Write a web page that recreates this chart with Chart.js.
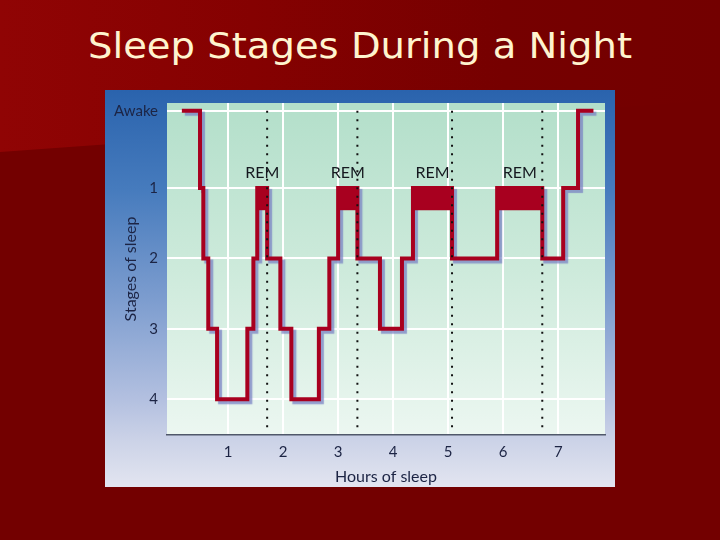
<!DOCTYPE html>
<html>
<head>
<meta charset="utf-8">
<script src="https://cdn.jsdelivr.net/npm/chart.js@4"></script>
<style>
  html, body { margin: 0; padding: 0; }
  body { width: 720px; height: 540px; position: relative; overflow: hidden; background: #730000; }
  #glow {
    position: absolute; left: 0; top: 0; width: 720px; height: 540px;
    background: linear-gradient(to right, #900404 0%, #850101 35%, #760000 70%, #730000 100%);
    clip-path: polygon(0 0, 720px 0, 720px 100px, 0 152px);
  }
  #title {
    position: absolute; left: 88px; top: 26px; line-height: 40px;
    font-family: "DejaVu Sans", sans-serif; font-size: 35px; color: #fff4cf;
    white-space: nowrap; transform-origin: 0 0;
  }
  #myChart { position: absolute; left: 105px; top: 90px; }
</style>
</head>
<body>
<div id="glow"></div>
<div id="title">Sleep Stages During a Night</div>
<canvas id="myChart" width="510" height="397"></canvas>
<script>
// 資料
var HOUR_TICKS = [1, 2, 3, 4, 5, 6, 7];
var STAGE_TICKS = ['Awake', '1', '2', '3', '4'];
var STAGE_LEVELS = [-0.1, 1, 2, 3, 4]; // where each stage sits on the y axis (Awake a bit above)

// hypnogram: time of each change (hours) and the stage entered (0 = Awake)
var CHANGE_HOURS = [0.16, 0.49, 0.55, 0.64, 0.80, 1.35, 1.46, 1.53, 1.71, 1.95, 2.15, 2.65,
                    2.84, 3.00, 3.35, 3.76, 4.16, 4.36, 5.07, 5.89, 6.71, 7.09, 7.36, 7.64];
var STAGES = [0, 1, 2, 3, 4, 3, 2, 1, 2, 3, 4, 3,
              2, 1, 2, 3, 2, 1, 2, 1, 2, 1, 0, 0];

// REM periods
var REM_START = [1.53, 3.00, 4.36, 5.89];
var REM_END = [1.71, 3.35, 5.07, 6.71];
var REM_DEPTH = 1.3;

// title width fit
var title = document.getElementById('title');
var mctx = document.createElement('canvas').getContext('2d');
mctx.font = '35px "DejaVu Sans"';
title.style.transform = 'scaleX(' + (544 / mctx.measureText(title.textContent).width) + ')';

var RED = '#a8001f';
var INK = '#1c2444';

// the stage held from each change time until the next one
var hypno = [];
CHANGE_HOURS.forEach(function (h, i) {
    var prev = i > 0 ? STAGES[i - 1] : STAGES[0];
    hypno.push({ x: h, y: STAGE_LEVELS[prev] });
    hypno.push({ x: h, y: STAGE_LEVELS[STAGES[i]] });
});

var datasets = [];
// dotted lines at the end of each REM period
REM_END.forEach(function (t) {
    datasets.push({
        data: [{ x: t, y: -0.1 }, { x: t, y: 4.42 }],
        borderColor: '#111111',
        borderWidth: 2,
        borderDash: [2, 6.5],
        pointRadius: 0
    });
});
// REM blocks (on top of the hypnogram line)
REM_START.forEach(function (t, i) {
    datasets.push({
        data: [{ x: t, y: REM_DEPTH }, { x: REM_END[i], y: REM_DEPTH }],
        borderColor: RED,
        borderWidth: 2,
        backgroundColor: RED,
        fill: { value: 1 },
        pointRadius: 0
    });
});
// hypnogram
datasets.push({
    data: hypno,
    borderColor: RED,
    borderWidth: 4,
    borderJoinStyle: 'miter',
    pointRadius: 0,
    shadow: true
});

var panelBg = {
    id: 'panelBg',
    beforeDraw: function (c) {
        var ctx = c.ctx, a = c.chartArea;
        var g = ctx.createLinearGradient(0, 0, 0, c.height);
        g.addColorStop(0, '#2a63ad');
        g.addColorStop(0.25, '#467bbd');
        g.addColorStop(0.53, '#7d9dcf');
        g.addColorStop(0.78, '#b3c0e0');
        g.addColorStop(0.88, '#cbd2e7');
        g.addColorStop(1, '#e3e5f0');
        ctx.save();
        ctx.fillStyle = g;
        ctx.fillRect(0, 0, c.width, c.height);
        var m = ctx.createLinearGradient(0, a.top, 0, a.bottom);
        m.addColorStop(0, '#b3dfca');
        m.addColorStop(0.5, '#cdeadb');
        m.addColorStop(1, '#ecf7f1');
        ctx.fillStyle = m;
        ctx.fillRect(a.left, a.top, a.right - a.left, a.bottom - a.top);
        ctx.restore();
    },
    beforeDatasetDraw: function (c, args) {
        if (!args.meta._dataset.shadow) return;
        var ctx = c.ctx;
        ctx.save();
        ctx.shadowColor = 'rgba(120,130,195,0.75)';
        ctx.shadowOffsetX = 3;
        ctx.shadowOffsetY = 3;
        ctx.shadowBlur = 1;
    },
    afterDatasetDraw: function (c, args) {
        if (!args.meta._dataset.shadow) return;
        c.ctx.restore();
    },
    afterDatasetsDraw: function (c) {
        // REM 標籤
        var ctx = c.ctx, xs = c.scales.x, ys = c.scales.y;
        ctx.save();
        ctx.font = '16px Lato';
        ctx.fillStyle = '#15181f';
        ctx.textAlign = 'center';
        ctx.textBaseline = 'alphabetic';
        REM_START.forEach(function (t, i) {
            var cx = xs.getPixelForValue((t + REM_END[i]) / 2);
            ctx.fillText('REM', cx, ys.getPixelForValue(1) - 10);
        });
        ctx.restore();
    }
};

var chart = document.querySelector('#myChart');
var myChart = new Chart(chart, {
    type: 'line',
    data: { datasets: datasets },
    plugins: [panelBg],
    options: {
        responsive: false,
        animation: false,
        layout: { padding: { top: 13, right: 10, left: 0, bottom: 0 } },
        plugins: {
            legend: { display: false },
            tooltip: { enabled: false }
        },
        scales: {
            x: {
                type: 'linear',
                min: -0.11,
                max: 7.85,
                afterBuildTicks: function (s) { s.ticks = HOUR_TICKS.map(function (v) { return { value: v }; }); },
                afterFit: function (s) { s.height = 52; s.paddingLeft = 0; s.paddingRight = 0; },
                grid: { color: '#ffffff', lineWidth: 2, drawTicks: false },
                border: { display: true, color: '#50586a', width: 1.5 },
                ticks: { color: INK, padding: 8, font: { family: 'Lato', size: 15 } },
                title: {
                    display: true, text: 'Hours of sleep', color: INK,
                    font: { family: 'Lato', size: 16 }, padding: { top: 0, bottom: 1 }
                }
            },
            y: {
                type: 'linear',
                reverse: true,
                min: -0.21,
                max: 4.51,
                afterBuildTicks: function (s) { s.ticks = STAGE_LEVELS.map(function (v) { return { value: v }; }); },
                afterFit: function (s) { s.width = 62; s.paddingTop = 0; s.paddingBottom = 0; },
                grid: { color: '#ffffff', lineWidth: 2, drawTicks: false },
                border: { display: false },
                ticks: {
                    color: INK, padding: 9, font: { family: 'Lato', size: 15 },
                    callback: function (v, i) { return STAGE_TICKS[i]; }
                },
                title: {
                    display: true, text: 'Stages of sleep', color: INK,
                    font: { family: 'Lato', size: 16 }, padding: { top: 16, bottom: 0 }
                }
            }
        }
    }
});
</script>
</body>
</html>
